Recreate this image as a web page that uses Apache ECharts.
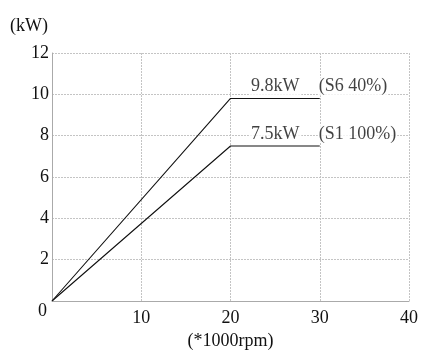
<!DOCTYPE html>
<html><head><meta charset="utf-8">
<script src="https://cdn.jsdelivr.net/npm/echarts@6/dist/echarts.min.js"></script>
<style>html,body{margin:0;padding:0;background:#fff}#c{width:429px;height:362px}</style>
</head><body><div id="c"></div>
<script>
const s6 = [[0, 0], [20, 9.8], [30, 9.8]];
const s1 = [[0, 0], [20, 7.5], [30, 7.5]];
const valueLabels = [{ x: 25, y: 9.8, text: '9.8kW' }, { x: 25, y: 7.5, text: '7.5kW' }];
const modeLabels = [{ x: 30, y: 9.8, text: '(S6 40%)' }, { x: 30, y: 7.5, text: '(S1 100%)' }];
const xName = '(*1000rpm)';
const yName = '(kW)';

const font = '"Liberation Serif", "DejaVu Serif", serif';
const txt = '#111';
const fs = 18;
const chart = echarts.init(document.getElementById('c'), null, { renderer: 'canvas' });
chart.setOption({
  animation: false,
  backgroundColor: '#fff',
  grid: { left: 52, right: 20, top: 53, bottom: 61, show: true, borderWidth: 0 },
  xAxis: {
    type: 'value', min: 0, max: 40, interval: 10,
    name: xName, nameLocation: 'middle', nameGap: 35,
    nameTextStyle: { fontFamily: font, fontSize: fs, color: txt, verticalAlign: 'middle' },
    axisLine: { show: true, lineStyle: { color: '#aaa', width: 1 } },
    axisTick: { show: false },
    axisLabel: { fontFamily: font, fontSize: fs, color: txt, margin: 8, formatter: v => v === 0 ? '' : String(v) },
    splitLine: { show: true, lineStyle: { color: '#c4c4c4', type: [2, 1], width: 1 } }
  },
  yAxis: {
    type: 'value', min: 0, max: 12, interval: 2,
    name: yName, nameLocation: 'end', nameGap: 27,
    nameTextStyle: { fontFamily: font, fontSize: fs, color: txt, align: 'right', verticalAlign: 'middle', padding: [0, 4, 0, 0] },
    axisLine: { show: true, lineStyle: { color: '#aaa', width: 1 } },
    axisTick: { show: false },
    axisLabel: {
      fontFamily: font, fontSize: fs, color: txt, margin: 3,
      formatter: v => v === 0 ? '{z|0}' : String(v),
      rich: { z: { fontFamily: font, fontSize: fs, color: txt, padding: [20, 2, 0, 0] } }
    },
    splitLine: { show: true, lineStyle: { color: '#c4c4c4', type: [2, 1], width: 1 } }
  },
  series: [
    { type: 'line', data: s6, symbol: 'none', lineStyle: { color: '#111', width: 1.1 }, z: 3 },
    { type: 'line', data: s1, symbol: 'none', lineStyle: { color: '#111', width: 1.1 }, z: 3 },
    {
      type: 'scatter', symbolSize: 0, z: 4,
      data: valueLabels.map(d => ({ value: [d.x, d.y], label: { formatter: d.text } })),
      label: { show: true, position: 'top', distance: 3, fontFamily: font, fontSize: fs, color: txt, backgroundColor: '#fff', padding: [0, 2] }
    },
    {
      type: 'scatter', symbolSize: 0, z: 4,
      data: modeLabels.map(d => ({ value: [d.x, d.y], label: { formatter: d.text } })),
      label: { show: true, position: 'top', distance: 3, align: 'left', offset: [-2, 0], fontFamily: font, fontSize: fs, color: txt, backgroundColor: '#fff', padding: [0, 1] }
    }
  ]
});
</script></body></html>
